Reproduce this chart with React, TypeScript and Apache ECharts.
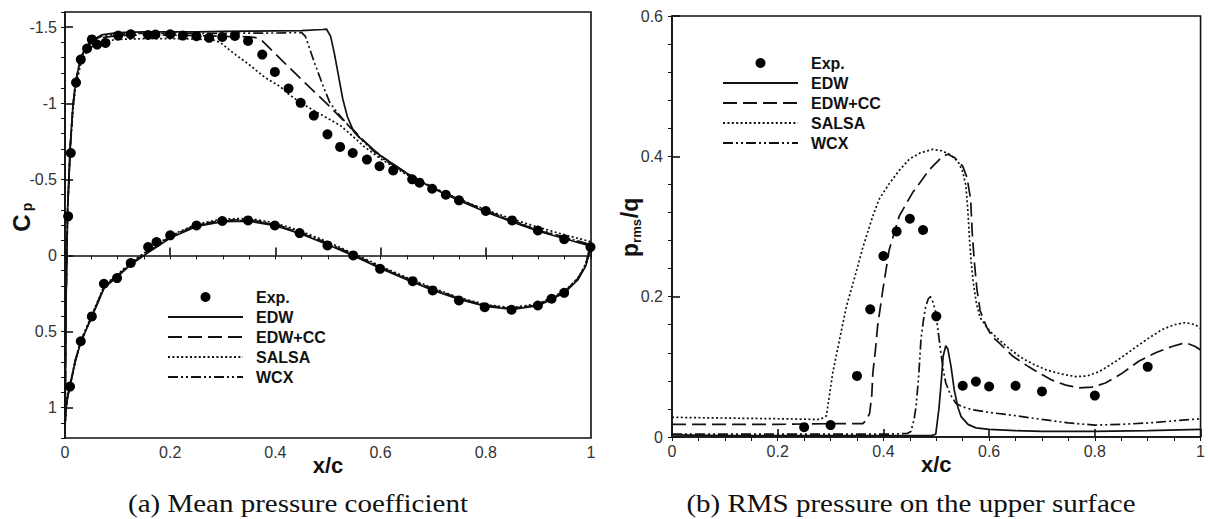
import { useEffect, useRef } from 'react';
import * as echarts from 'echarts';

// ---------------- (a) Mean pressure coefficient ----------------
const cpTicks = [-1.5, -1, -0.5, 0, 0.5, 1];

const expUpper = [
  [0.006, -0.257], [0.011, -0.673], [0.021, -1.136], [0.03, -1.287], [0.042, -1.36], [0.051, -1.42],
  [0.061, -1.386], [0.077, -1.397], [0.101, -1.445], [0.125, -1.454], [0.158, -1.449], [0.172, -1.452],
  [0.2, -1.454], [0.224, -1.445], [0.25, -1.441], [0.274, -1.43], [0.299, -1.436], [0.323, -1.443],
  [0.348, -1.41], [0.375, -1.32], [0.399, -1.206], [0.425, -1.097], [0.448, -1.003], [0.473, -0.919],
  [0.499, -0.796], [0.523, -0.713], [0.547, -0.673], [0.574, -0.63], [0.598, -0.586], [0.624, -0.559],
  [0.66, -0.5], [0.674, -0.478], [0.698, -0.438], [0.724, -0.399], [0.749, -0.362], [0.8, -0.292],
  [0.85, -0.23], [0.899, -0.164], [0.949, -0.107], [0.999, -0.055],
];
const expLower = [
  [0.0095, 0.862], [0.03, 0.564], [0.051, 0.401], [0.074, 0.186], [0.099, 0.149], [0.125, 0.05],
  [0.158, -0.055], [0.174, -0.088], [0.2, -0.132], [0.25, -0.197], [0.299, -0.226], [0.348, -0.23],
  [0.399, -0.197], [0.446, -0.147], [0.499, -0.066], [0.548, 0.0], [0.599, 0.088], [0.661, 0.169],
  [0.699, 0.23], [0.749, 0.296], [0.798, 0.34], [0.849, 0.357], [0.899, 0.329], [0.925, 0.285], [0.949, 0.246],
];

const edwUpper = [
  [0, 1.12], [0.002, 0.3], [0.005, -0.3], [0.01, -0.72], [0.015, -0.98], [0.02, -1.14], [0.03, -1.3],
  [0.04, -1.37], [0.05, -1.41], [0.07, -1.45], [0.1, -1.465], [0.15, -1.47], [0.2, -1.47], [0.25, -1.47],
  [0.3, -1.472], [0.35, -1.474], [0.4, -1.476], [0.45, -1.478], [0.49, -1.485], [0.497, -1.488],
  [0.505, -1.44], [0.512, -1.33], [0.52, -1.18], [0.528, -1.03], [0.537, -0.91], [0.547, -0.83],
  [0.56, -0.775], [0.58, -0.715], [0.6, -0.655], [0.65, -0.54], [0.7, -0.44], [0.75, -0.36],
  [0.8, -0.285], [0.85, -0.22], [0.9, -0.16], [0.95, -0.11], [1.0, -0.06],
];
const ccUpper = [
  [0, 1.12], [0.002, 0.3], [0.005, -0.3], [0.01, -0.71], [0.015, -0.97], [0.02, -1.13], [0.03, -1.29],
  [0.04, -1.36], [0.05, -1.4], [0.07, -1.43], [0.1, -1.445], [0.15, -1.45], [0.2, -1.448], [0.25, -1.445],
  [0.3, -1.44], [0.35, -1.437], [0.365, -1.43], [0.375, -1.41], [0.41, -1.29], [0.45, -1.155],
  [0.5, -0.99], [0.54, -0.85], [0.565, -0.765], [0.58, -0.715], [0.6, -0.655], [0.65, -0.54],
  [0.7, -0.445], [0.75, -0.365], [0.8, -0.29], [0.85, -0.225], [0.9, -0.165], [0.95, -0.115], [1.0, -0.065],
];
const salsaUpper = [
  [0, 1.12], [0.002, 0.28], [0.005, -0.3], [0.01, -0.7], [0.015, -0.95], [0.02, -1.1], [0.03, -1.26],
  [0.04, -1.33], [0.05, -1.37], [0.07, -1.405], [0.1, -1.42], [0.15, -1.425], [0.2, -1.425], [0.25, -1.422],
  [0.28, -1.418], [0.295, -1.4], [0.32, -1.33], [0.348, -1.26], [0.38, -1.17], [0.409, -1.11],
  [0.425, -1.06], [0.45, -1.0], [0.472, -0.954], [0.5, -0.9], [0.523, -0.855], [0.545, -0.79],
  [0.567, -0.72], [0.6, -0.635], [0.65, -0.53], [0.7, -0.445], [0.75, -0.37], [0.8, -0.3],
  [0.85, -0.24], [0.9, -0.185], [0.95, -0.135], [1.0, -0.09],
];
const wcxUpper = [
  [0, 1.12], [0.002, 0.3], [0.005, -0.3], [0.01, -0.72], [0.015, -0.98], [0.02, -1.14], [0.03, -1.3],
  [0.04, -1.37], [0.05, -1.41], [0.07, -1.44], [0.1, -1.455], [0.15, -1.46], [0.2, -1.46], [0.3, -1.46],
  [0.4, -1.462], [0.45, -1.465], [0.457, -1.44], [0.465, -1.36], [0.475, -1.26], [0.49, -1.12],
  [0.504, -1.0], [0.52, -0.93], [0.535, -0.87], [0.55, -0.81], [0.565, -0.755], [0.6, -0.645],
  [0.65, -0.535], [0.7, -0.445], [0.75, -0.365], [0.8, -0.295], [0.85, -0.23], [0.9, -0.17],
  [0.95, -0.12], [1.0, -0.07],
];

const lowerX = [0, 0.002, 0.005, 0.01, 0.02, 0.03, 0.05, 0.075, 0.1, 0.125, 0.15, 0.2, 0.25, 0.3, 0.35,
  0.4, 0.45, 0.5, 0.55, 0.6, 0.65, 0.7, 0.75, 0.8, 0.85, 0.9, 0.95, 0.975, 0.99, 1.0];
const edwLowerCp = [1.12, 1.0, 0.93, 0.85, 0.69, 0.57, 0.41, 0.21, 0.14, 0.06, 0.0, -0.115, -0.19, -0.222,
  -0.225, -0.195, -0.14, -0.07, 0.005, 0.085, 0.16, 0.23, 0.29, 0.335, 0.355, 0.33, 0.245, 0.16, 0.07, -0.06];
const ccLowerCp = [1.12, 1.0, 0.93, 0.85, 0.69, 0.57, 0.41, 0.205, 0.135, 0.055, -0.005, -0.12, -0.195, -0.227,
  -0.23, -0.2, -0.145, -0.075, 0.0, 0.08, 0.155, 0.225, 0.285, 0.33, 0.35, 0.325, 0.24, 0.155, 0.065, -0.065];
const salsaLowerCp = [1.12, 1.0, 0.92, 0.84, 0.68, 0.56, 0.4, 0.195, 0.125, 0.045, -0.015, -0.13, -0.205, -0.24,
  -0.243, -0.213, -0.158, -0.088, -0.01, 0.07, 0.145, 0.215, 0.278, 0.323, 0.343, 0.318, 0.233, 0.15, 0.055, -0.09];
const wcxLowerCp = [1.12, 1.0, 0.93, 0.845, 0.685, 0.565, 0.405, 0.2, 0.13, 0.05, -0.01, -0.125, -0.2, -0.232,
  -0.235, -0.205, -0.15, -0.08, -0.003, 0.077, 0.152, 0.222, 0.283, 0.328, 0.348, 0.323, 0.238, 0.152, 0.06, -0.07];

// ---------------- (b) RMS pressure on the upper surface ----------------
const rmsExp = [
  [0.25, 0.014], [0.3, 0.017], [0.35, 0.087], [0.375, 0.182], [0.4, 0.258], [0.425, 0.293],
  [0.45, 0.311], [0.475, 0.295], [0.5, 0.172], [0.55, 0.073], [0.575, 0.079], [0.6, 0.072],
  [0.65, 0.073], [0.7, 0.065], [0.8, 0.059], [0.9, 0.1],
];
const rmsEDW = [
  [0, 0.003], [0.1, 0.002], [0.2, 0.002], [0.3, 0.002], [0.4, 0.002], [0.49, 0.002], [0.499, 0.004],
  [0.505, 0.04], [0.509, 0.075], [0.513, 0.115], [0.518, 0.13], [0.522, 0.125], [0.528, 0.1],
  [0.534, 0.067], [0.541, 0.042], [0.547, 0.029], [0.56, 0.018], [0.575, 0.013], [0.6, 0.011],
  [0.65, 0.009], [0.7, 0.008], [0.8, 0.008], [0.9, 0.009], [1.0, 0.011],
];
const rmsCC = [
  [0, 0.018], [0.1, 0.018], [0.2, 0.018], [0.3, 0.019], [0.361, 0.019], [0.368, 0.024], [0.374, 0.034],
  [0.378, 0.06], [0.38, 0.091], [0.385, 0.125], [0.389, 0.158], [0.399, 0.21], [0.411, 0.267],
  [0.43, 0.315], [0.455, 0.348], [0.487, 0.381], [0.512, 0.4], [0.522, 0.403], [0.535, 0.398],
  [0.55, 0.386], [0.558, 0.37], [0.565, 0.339], [0.568, 0.291], [0.572, 0.25], [0.577, 0.21],
  [0.583, 0.18], [0.595, 0.157], [0.606, 0.143], [0.619, 0.134], [0.645, 0.115], [0.675, 0.1],
  [0.7, 0.089], [0.719, 0.081], [0.745, 0.074], [0.77, 0.07], [0.795, 0.071], [0.82, 0.077],
  [0.85, 0.09], [0.883, 0.108], [0.915, 0.12], [0.946, 0.129], [0.965, 0.133], [0.977, 0.133],
  [0.99, 0.129], [1.0, 0.124],
];
const rmsSALSA = [
  [0, 0.028], [0.1, 0.027], [0.2, 0.026], [0.28, 0.025], [0.292, 0.03], [0.298, 0.06], [0.304, 0.091],
  [0.317, 0.139], [0.33, 0.186], [0.348, 0.234], [0.361, 0.27], [0.38, 0.315], [0.392, 0.339],
  [0.41, 0.36], [0.43, 0.38], [0.449, 0.396], [0.47, 0.405], [0.493, 0.41], [0.51, 0.408],
  [0.525, 0.403], [0.535, 0.397], [0.543, 0.39], [0.55, 0.378], [0.556, 0.358], [0.56, 0.32],
  [0.563, 0.28], [0.566, 0.25], [0.57, 0.22], [0.576, 0.19], [0.583, 0.17], [0.6, 0.152],
  [0.612, 0.143], [0.635, 0.128], [0.657, 0.115], [0.68, 0.105], [0.707, 0.096], [0.735, 0.09],
  [0.764, 0.086], [0.785, 0.087], [0.808, 0.093], [0.84, 0.108], [0.87, 0.124], [0.9, 0.14],
  [0.927, 0.153], [0.95, 0.16], [0.971, 0.163], [0.99, 0.16], [1.0, 0.155],
];
const rmsWCX = [
  [0, 0.004], [0.2, 0.004], [0.4, 0.004], [0.445, 0.005], [0.452, 0.008], [0.458, 0.025], [0.462, 0.045],
  [0.467, 0.09], [0.471, 0.139], [0.476, 0.168], [0.48, 0.186], [0.485, 0.197], [0.489, 0.2],
  [0.494, 0.192], [0.499, 0.177], [0.504, 0.148], [0.508, 0.124], [0.513, 0.097], [0.518, 0.077],
  [0.527, 0.06], [0.537, 0.048], [0.55, 0.043], [0.568, 0.039], [0.6, 0.035], [0.644, 0.031],
  [0.7, 0.025], [0.75, 0.02], [0.8, 0.017], [0.85, 0.018], [0.9, 0.02], [0.95, 0.023], [1.0, 0.026],
];

const expName = 'Exp.';
const modelNames = ['EDW', 'EDW+CC', 'SALSA', 'WCX'];

const SANS = '"Liberation Sans", Arial, Helvetica, sans-serif';
const SERIF = '"Liberation Serif", "Times New Roman", serif';
const INK = '#111';
const LABEL = '#333';

const lineTypes: Record<string, any> = {
  EDW: 'solid',
  'EDW+CC': [14, 6],
  SALSA: [2, 2.4],
  WCX: [10, 3, 2, 3, 2, 3],
};

function loop(upper: number[][], lowerCp: number[]) {
  const lower = lowerX.map((x, i) => [x, lowerCp[i]]).reverse();
  return [...upper, ...lower];
}

function lineSeries(name: string, data: number[][], xi: number, yi: number) {
  return {
    type: 'line', name, data, xAxisIndex: xi, yAxisIndex: yi,
    symbol: 'none', showSymbol: false, smooth: false,
    lineStyle: { color: INK, width: 1.7, type: lineTypes[name] },
    itemStyle: { color: INK },
    z: 3,
  };
}
function expSeries(data: number[][], xi: number, yi: number, size: number) {
  return {
    type: 'scatter', name: expName, data, xAxisIndex: xi, yAxisIndex: yi,
    symbol: 'circle', symbolSize: size, itemStyle: { color: '#000', opacity: 1 }, z: 4,
  };
}

const axisLineStyle = { color: INK, width: 1.6 };

function majorX(grid: number) {
  return {
    type: 'value', gridIndex: grid, min: 0, max: 1, interval: 0.2,
    axisLine: { show: true, lineStyle: axisLineStyle },
    axisTick: { show: true, inside: true, length: 8, lineStyle: axisLineStyle },
    axisLabel: { show: true, fontSize: 16, fontFamily: SANS, color: LABEL, margin: 6 },
    splitLine: { show: false },
    name: 'x/c', nameLocation: 'middle', nameGap: 16, nameMoveOverlap: false,
    nameTextStyle: { fontSize: 22, fontWeight: 'bold', fontFamily: SANS, color: INK, verticalAlign: 'top' },
  };
}
function minorAxis(grid: number, min: number, max: number, interval: number, inverse = false) {
  return {
    type: 'value', gridIndex: grid, min, max, interval, inverse,
    axisLine: { show: false },
    axisTick: { show: true, inside: true, length: 4, lineStyle: { color: INK, width: 1 } },
    axisLabel: { show: false },
    splitLine: { show: false },
  };
}

export default function App() {
  const ref = useRef<HTMLDivElement>(null);
  useEffect(() => {
    document.body.style.margin = '0';
    if (!ref.current) return;
    const chart = echarts.init(ref.current, null, { renderer: 'svg' });
    const legendData = [
      { name: expName, itemStyle: { opacity: 1 } },
      ...modelNames.map((n) => ({ name: n, itemStyle: { opacity: 0 } })),
    ];
    const legendBase = {
      orient: 'vertical', itemWidth: 75, itemHeight: 10, itemGap: 0, padding: 0, selectedMode: false,
      data: legendData,
      textStyle: { fontSize: 16, fontWeight: 'bold', fontFamily: SANS, color: INK, lineHeight: 20, padding: [0, 0, 0, 8] },
    };
    const capStyle = { font: `25px ${SERIF}`, fill: '#111', align: 'center', verticalAlign: 'middle' };
    const option: any = {
      animation: false,
      backgroundColor: '#fff',
      grid: [
        { left: 65, top: 12, width: 526, height: 426, show: true, borderColor: INK, borderWidth: 1.6, backgroundColor: 'transparent' },
        { left: 672, top: 16, width: 530, height: 421, show: true, borderColor: INK, borderWidth: 1.6, backgroundColor: 'transparent' },
      ],
      xAxis: [
        majorX(0),
        minorAxis(0, 0, 1, 0.05),
        majorX(1),
        minorAxis(1, 0, 1, 0.05),
      ],
      yAxis: [
        {
          type: 'value', gridIndex: 0, min: -1.6, max: 1.2, inverse: true,
          axisLine: { show: true, lineStyle: axisLineStyle },
          axisTick: { show: true, inside: true, length: 8, lineStyle: axisLineStyle, customValues: cpTicks },
          axisLabel: { show: true, fontSize: 16, fontFamily: SANS, color: LABEL, margin: 8, customValues: cpTicks },
          splitLine: { show: false },
        },
        minorAxis(0, -1.6, 1.2, 0.1, true),
        {
          type: 'value', gridIndex: 1, min: 0, max: 0.6, interval: 0.2,
          axisLine: { show: true, lineStyle: axisLineStyle },
          axisTick: { show: true, inside: true, length: 8, lineStyle: axisLineStyle },
          axisLabel: { show: true, fontSize: 16, fontFamily: SANS, color: LABEL, margin: 9 },
          splitLine: { show: false },
        },
        minorAxis(1, 0, 0.6, 0.04),
      ],
      legend: [
        { ...legendBase, left: 167, top: 287 },
        { ...legendBase, left: 722, top: 53 },
      ],
      series: [
        lineSeries('EDW', loop(edwUpper, edwLowerCp), 0, 0),
        lineSeries('EDW+CC', loop(ccUpper, ccLowerCp), 0, 0),
        lineSeries('SALSA', loop(salsaUpper, salsaLowerCp), 0, 0),
        lineSeries('WCX', loop(wcxUpper, wcxLowerCp), 0, 0),
        expSeries([...expUpper, ...expLower], 0, 0, 10),
        lineSeries('EDW', rmsEDW, 2, 2),
        lineSeries('EDW+CC', rmsCC, 2, 2),
        lineSeries('SALSA', rmsSALSA, 2, 2),
        lineSeries('WCX', rmsWCX, 2, 2),
        expSeries(rmsExp, 2, 2, 10),
      ],
      graphic: [
        { type: 'text', x: 21, y: 223, rotation: Math.PI / 2, style: { text: 'C', font: `bold 24px ${SANS}`, fill: INK, align: 'center', verticalAlign: 'middle' } },
        { type: 'text', x: 27, y: 207, rotation: Math.PI / 2, style: { text: 'p', font: `bold 14px ${SANS}`, fill: INK, align: 'center', verticalAlign: 'middle' } },
        { type: 'text', x: 630, y: 250, rotation: Math.PI / 2, style: { text: 'p', font: `bold 23px ${SANS}`, fill: INK, align: 'center', verticalAlign: 'middle' } },
        { type: 'text', x: 636, y: 231, rotation: Math.PI / 2, style: { text: 'rms', font: `bold 13px ${SANS}`, fill: INK, align: 'center', verticalAlign: 'middle' } },
        { type: 'text', x: 630, y: 208, rotation: Math.PI / 2, style: { text: '/q', font: `bold 23px ${SANS}`, fill: INK, align: 'center', verticalAlign: 'middle' } },
        { type: 'text', x: 298, y: 504, scaleX: 1.16, style: { text: '(a) Mean pressure coefficient', ...capStyle } },
        { type: 'text', x: 911, y: 504, scaleX: 1.16, style: { text: '(b) RMS pressure on the upper surface', ...capStyle } },
      ],
    };
    chart.setOption(option);
    return () => chart.dispose();
  }, []);
  return <div ref={ref} style={{ width: 1208, height: 519 }} />;
}
